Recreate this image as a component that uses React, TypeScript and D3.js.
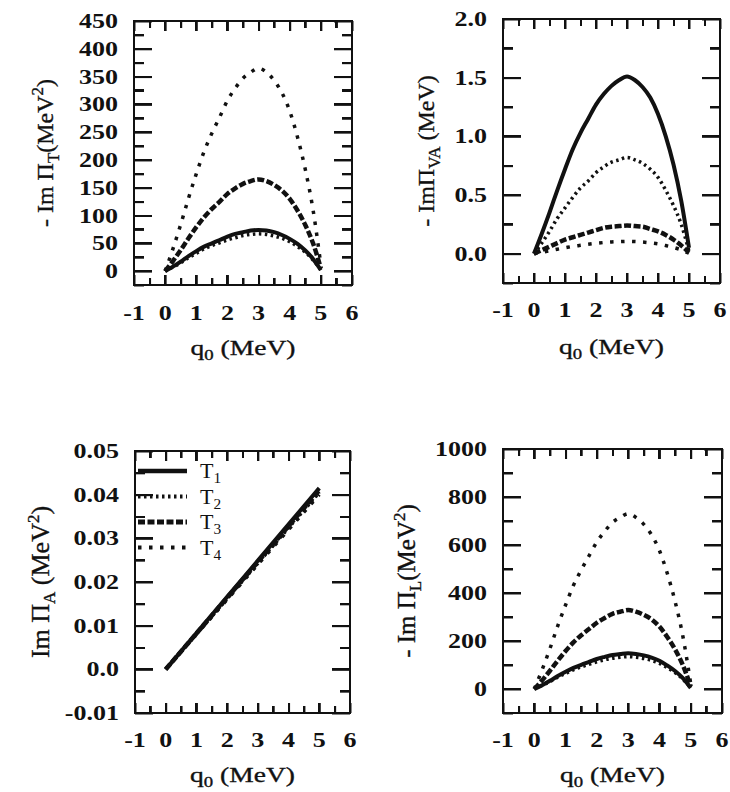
import React, { useEffect, useRef } from 'react';
import * as d3 from 'd3';

// ---------- data ----------
const q0Values = [0, 0.25, 0.5, 0.75, 1, 1.25, 1.5, 1.75, 2, 2.25, 2.5, 2.75, 3, 3.25, 3.5, 3.75, 4, 4.25, 4.5, 4.75, 5];

const imPiT_T1 = [0, 8, 17, 27, 36, 44, 50, 56, 62, 67, 70, 73, 74, 73, 70, 65, 58, 49, 37, 22, 2];
const imPiT_T2 = [0, 7, 15, 24, 32, 40, 46, 51, 56, 60, 64, 66, 67, 66, 63, 59, 53, 44, 34, 20, 2];
const imPiT_T3 = [0, 18, 38, 59, 79, 97, 112, 125, 139, 149, 157, 162, 165, 162, 155, 145, 130, 109, 83, 50, 5];
const imPiT_T4 = [0, 40, 84, 131, 175, 215, 248, 277, 307, 329, 347, 358, 365, 358, 343, 321, 288, 241, 183, 110, 11];

const imPiVA_T1 = [0, 0.17, 0.35, 0.54, 0.72, 0.89, 1.03, 1.15, 1.27, 1.36, 1.43, 1.48, 1.51, 1.48, 1.42, 1.33, 1.19, 1.0, 0.76, 0.45, 0.05];
const imPiVA_T2 = [0, 0.09, 0.19, 0.3, 0.39, 0.48, 0.56, 0.62, 0.69, 0.74, 0.78, 0.8, 0.82, 0.8, 0.77, 0.72, 0.65, 0.54, 0.41, 0.25, 0.02];
const imPiVA_T3 = [0, 0.03, 0.06, 0.09, 0.12, 0.14, 0.16, 0.18, 0.2, 0.22, 0.23, 0.235, 0.24, 0.235, 0.23, 0.21, 0.19, 0.16, 0.12, 0.07, 0.01];
const imPiVA_T4 = [0, 0.012, 0.024, 0.038, 0.05, 0.062, 0.071, 0.08, 0.088, 0.095, 0.1, 0.103, 0.105, 0.103, 0.099, 0.092, 0.083, 0.069, 0.053, 0.032, 0.003];

const q0ValuesA = [0, 1, 2, 3, 4, 5];
const imPiA_T1 = [0, 0.0083, 0.0166, 0.0249, 0.0332, 0.0415];
const imPiA_T2 = [0, 0.0081, 0.0162, 0.0243, 0.0324, 0.0405];
const imPiA_T3 = [0, 0.0082, 0.0164, 0.0246, 0.0328, 0.041];
const imPiA_T4 = [0, 0.008, 0.016, 0.024, 0.032, 0.04];

const imPiL_T1 = [0, 16, 34, 54, 72, 88, 101, 113, 125, 134, 142, 146, 149, 146, 140, 131, 118, 98, 75, 45, 4];
const imPiL_T2 = [0, 15, 31, 49, 65, 80, 92, 103, 113, 122, 128, 132, 135, 132, 127, 119, 107, 89, 68, 41, 4];
const imPiL_T3 = [0, 36, 76, 118, 158, 194, 224, 250, 276, 296, 313, 322, 329, 322, 309, 290, 260, 217, 165, 99, 10];
const imPiL_T4 = [0, 80, 168, 263, 350, 431, 496, 555, 613, 657, 694, 715, 730, 715, 686, 642, 577, 482, 365, 219, 22];

const seriesLabels = ['1', '2', '3', '4'];
const xTickValues = [-1, 0, 1, 2, 3, 4, 5, 6];
const xMinorTickValues = [-1, -0.5, 0, 0.5, 1, 1.5, 2, 2.5, 3, 3.5, 4, 4.5, 5, 5.5, 6];
const yTicksT = [0, 50, 100, 150, 200, 250, 300, 350, 400, 450];
const yTicksVA = [0, 0.5, 1.0, 1.5, 2.0];
const yTicksA = [-0.01, 0, 0.01, 0.02, 0.03, 0.04, 0.05];
const yTicksL = [0, 200, 400, 600, 800, 1000];

// ---------- styles ----------
const FONT = 'Liberation Serif, Times New Roman, serif';
const INK = '#111111';
const lineStyles = [
  { width: 4, dash: '' },
  { width: 3.5, dash: '2.5,3.5' },
  { width: 4.5, dash: '7,2.5' },
  { width: 3.5, dash: '3.5,7.5' },
];

type PanelDef = {
  x0: number; x1: number; y0: number; y1: number;
  yDomain: [number, number];
  yTicks: number[];
  yMinorStep: number;
  fmt: (v: number) => string;
  q: number[];
  series: number[][];
  title: React.ReactNode;
  titleSize: number;
  titleX: number;
  xLabelY: number;
  xTitleY: number;
  legend?: boolean;
};

// Inward ticks drawn with d3 axes on all four sides
function TickAxes({ p }: { p: PanelDef }) {
  const ref = useRef<SVGGElement>(null);
  useEffect(() => {
    if (!ref.current) return;
    const xs = d3.scaleLinear().domain([-1, 6]).range([p.x0, p.x1]);
    const ys = d3.scaleLinear().domain(p.yDomain).range([p.y1, p.y0]);
    const nY = Math.round((p.yDomain[1] - p.yDomain[0]) / p.yMinorStep);
    const yMinorVals = d3.range(0, nY + 1).map((k) => p.yDomain[0] + k * p.yMinorStep);
    const xMajorVals = xMinorTickValues.filter((v) => Math.abs(v - Math.round(v)) < 1e-6);
    const xMinorVals = xMinorTickValues.filter((v) => Math.abs(v - Math.round(v)) >= 1e-6);
    const yMinorOnly = yMinorVals.filter((v) => !p.yTicks.some((t) => Math.abs(t - v) < p.yMinorStep * 0.01));
    const g = d3.select(ref.current);
    g.selectAll('*').remove();
    const add = (axis: d3.Axis<d3.NumberValue>, tx: number, ty: number) => {
      const a = g.append('g').attr('transform', `translate(${tx},${ty})`).call(axis);
      a.select('.domain').remove();
      a.selectAll('text').remove();
      a.selectAll('line').attr('stroke', INK).attr('stroke-width', 2);
    };
    add(d3.axisBottom(xs).tickValues(xMajorVals).tickSize(-10), 0, p.y1);
    add(d3.axisBottom(xs).tickValues(xMinorVals).tickSize(-7), 0, p.y1);
    add(d3.axisTop(xs).tickValues(xMajorVals).tickSize(-10), 0, p.y0);
    add(d3.axisTop(xs).tickValues(xMinorVals).tickSize(-7), 0, p.y0);
    add(d3.axisLeft(ys).tickValues(p.yTicks).tickSize(-18), p.x0, 0);
    add(d3.axisLeft(ys).tickValues(yMinorOnly).tickSize(-10), p.x0, 0);
    add(d3.axisRight(ys).tickValues(p.yTicks).tickSize(-18), p.x1, 0);
    add(d3.axisRight(ys).tickValues(yMinorOnly).tickSize(-10), p.x1, 0);
  }, [p]);
  return <g ref={ref} />;
}

function Panel({ p }: { p: PanelDef }) {
  const xs = d3.scaleLinear().domain([-1, 6]).range([p.x0, p.x1]);
  const ys = d3.scaleLinear().domain(p.yDomain).range([p.y1, p.y0]);
  const line = d3
    .line<number>()
    .x((_, i) => xs(p.q[i]))
    .y((d) => ys(d))
    .curve(d3.curveMonotoneX);

  const cy = (p.y0 + p.y1) / 2;
  const cx = (p.x0 + p.x1) / 2;

  // static fallback ticks as filled bars
  const nY = Math.round((p.yDomain[1] - p.yDomain[0]) / p.yMinorStep);
  const bars: { x: number; y: number; w: number; h: number }[] = [];
  xMinorTickValues.forEach((v) => {
    const len = Math.abs(v - Math.round(v)) < 1e-6 ? 10 : 7;
    const x = Math.round(xs(v)) - 1;
    bars.push({ x, y: p.y1 - len, w: 2, h: len });
    bars.push({ x, y: p.y0, w: 2, h: len });
  });
  for (let k = 0; k <= nY; k++) {
    const v = p.yDomain[0] + k * p.yMinorStep;
    const major = p.yTicks.some((t) => Math.abs(t - v) < p.yMinorStep * 0.01);
    const len = major ? 18 : 10;
    const y = Math.round(ys(v)) - 1;
    bars.push({ x: p.x0, y, w: len, h: 2 });
    bars.push({ x: p.x1 - len, y, w: len, h: 2 });
  }

  return (
    <g>
      {p.series.map((s, i) => (
        <path
          key={i}
          d={line(s) || ''}
          fill="none"
          stroke={INK}
          strokeWidth={lineStyles[i].width}
          strokeDasharray={lineStyles[i].dash || 'none'}
        />
      ))}
      <rect x={p.x0} y={p.y0} width={p.x1 - p.x0} height={p.y1 - p.y0} fill="none" stroke={INK} strokeWidth={2} />
      <g>
        {bars.map((b, i) => (
          <rect key={'b' + i} x={b.x} y={b.y} width={b.w} height={b.h} fill={INK} stroke="none" />
        ))}
      </g>
      <TickAxes p={p} />
      {p.yTicks.map((v, i) => (
        <text
          key={'yl' + i}
          transform={`translate(${p.x0 - 16},${ys(v) + 7}) scale(1.3,1)`}
          textAnchor="end"
          fontFamily={FONT}
          fontWeight="bold"
          fontSize={20}
          fill={INK}
        >
          {p.fmt(v)}
        </text>
      ))}
      {xTickValues.map((v, i) => (
        <text
          key={'xl' + i}
          transform={`translate(${xs(v)},${p.xLabelY + 7}) scale(1.3,1)`}
          textAnchor="middle"
          fontFamily={FONT}
          fontWeight="bold"
          fontSize={20}
          fill={INK}
        >
          {String(v)}
        </text>
      ))}
      <text
        transform={`translate(${cx},${p.xTitleY}) scale(1.25,1)`}
        textAnchor="middle"
        fontFamily={FONT}
        fontSize={22}
        fill={INK}
        stroke={INK}
        strokeWidth={0.35}
      >
        q<tspan dy={5} fontSize={15}>0</tspan>
        <tspan dy={-5}> (MeV)</tspan>
      </text>
      <text
        transform={`translate(${p.titleX},${cy}) rotate(-90)`}
        textAnchor="middle"
        fontFamily={FONT}
        fontSize={p.titleSize}
        fill={INK}
        stroke={INK}
        strokeWidth={0.35}
      >
        {p.title}
      </text>
      {p.legend &&
        seriesLabels.map((lab, i) => {
          const y = p.y0 + 20 + i * 25.5;
          return (
            <g key={'lg' + i}>
              <line
                x1={p.x0 + 3}
                x2={p.x0 + 52}
                y1={y}
                y2={y}
                stroke={INK}
                strokeWidth={lineStyles[i].width + 0.5}
                strokeDasharray={lineStyles[i].dash || 'none'}
              />
              <text
                transform={`translate(${p.x0 + 65},${y + 7}) scale(1.1,1)`}
                fontFamily={FONT}
                fontSize={20}
                fill={INK}
              >
                T<tspan dy={5} fontSize={14}>{lab}</tspan>
              </text>
            </g>
          );
        })}
    </g>
  );
}

export default function App() {
  const sub = 17;
  const panels: PanelDef[] = [
    {
      x0: 134, x1: 352, y0: 21, y1: 285,
      yDomain: [-25, 450], yTicks: yTicksT, yMinorStep: 25,
      fmt: (v) => String(v),
      q: q0Values,
      series: [imPiT_T1, imPiT_T2, imPiT_T3, imPiT_T4],
      title: (
        <>
          - Im Π<tspan dy={6} fontSize={sub}>T</tspan>
          <tspan dy={-6}>(MeV</tspan>
          <tspan dy={-10} fontSize={sub}>2</tspan>
          <tspan dy={10}>)</tspan>
        </>
      ),
      titleSize: 24, titleX: 53, xLabelY: 313, xTitleY: 355,
    },
    {
      x0: 503, x1: 720, y0: 19, y1: 283,
      yDomain: [-0.25, 2.0], yTicks: yTicksVA, yMinorStep: 0.25,
      fmt: (v) => v.toFixed(1),
      q: q0Values,
      series: [imPiVA_T1, imPiVA_T2, imPiVA_T3, imPiVA_T4],
      title: (
        <>
          - ImΠ<tspan dy={6} fontSize={sub}>VA</tspan>
          <tspan dy={-6}> (MeV)</tspan>
        </>
      ),
      titleSize: 24, titleX: 434, xLabelY: 310, xTitleY: 354,
    },
    {
      x0: 135, x1: 350, y0: 451, y1: 713,
      yDomain: [-0.01, 0.05], yTicks: yTicksA, yMinorStep: 0.005,
      fmt: (v) => (Math.abs(v) < 1e-9 ? '0.0' : v.toFixed(2)),
      q: q0ValuesA,
      series: [imPiA_T1, imPiA_T2, imPiA_T3, imPiA_T4],
      title: (
        <>
          Im Π<tspan dy={6} fontSize={sub}>A</tspan>
          <tspan dy={-6}> (MeV</tspan>
          <tspan dy={-10} fontSize={sub}>2</tspan>
          <tspan dy={10}>)</tspan>
        </>
      ),
      titleSize: 26, titleX: 49, xLabelY: 740, xTitleY: 782,
      legend: true,
    },
    {
      x0: 503, x1: 722, y0: 449, y1: 713,
      yDomain: [-100, 1000], yTicks: yTicksL, yMinorStep: 100,
      fmt: (v) => String(v),
      q: q0Values,
      series: [imPiL_T1, imPiL_T2, imPiL_T3, imPiL_T4],
      title: (
        <>
          - Im Π<tspan dy={6} fontSize={sub}>L</tspan>
          <tspan dy={-6}>(MeV</tspan>
          <tspan dy={-10} fontSize={sub}>2</tspan>
          <tspan dy={10}>)</tspan>
        </>
      ),
      titleSize: 25, titleX: 415, xLabelY: 740, xTitleY: 782,
    },
  ];

  return (
    <svg
      width={730}
      height={792}
      viewBox="0 0 730 792"
      style={{ position: 'absolute', left: 0, top: 0, background: '#fff' }}
    >
      <rect x={0} y={0} width={730} height={792} fill="#fff" />
      {panels.map((p, i) => (
        <Panel key={i} p={p} />
      ))}
    </svg>
  );
}
